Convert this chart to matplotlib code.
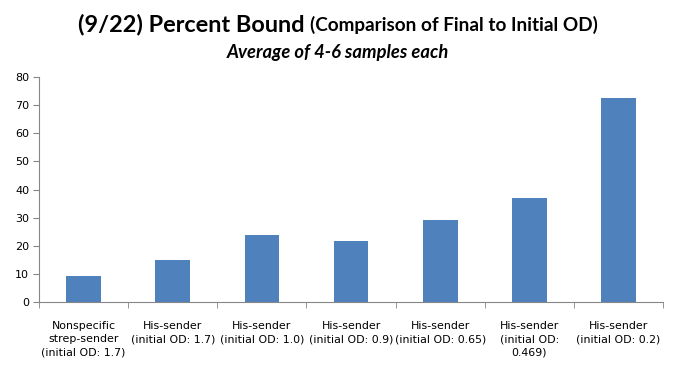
import numpy as np
import matplotlib
matplotlib.use("Agg")
import matplotlib.pyplot as plt

CATEGORIES = [
    "Nonspecific\nstrep-sender\n(initial OD: 1.7)",
    "His-sender\n(initial OD: 1.7)",
    "His-sender\n(initial OD: 1.0)",
    "His-sender\n(initial OD: 0.9)",
    "His-sender\n(initial OD: 0.65)",
    "His-sender\n(initial OD:\n0.469)",
    "His-sender\n(initial OD: 0.2)",
]
VALUES = [9.2, 15.0, 23.8, 21.7, 29.2, 37.0, 72.5]
YTICKS = [0, 10, 20, 30, 40, 50, 60, 70, 80]

BAR = "#4f81bd"
AXIS = "#868686"
TFONT = ["Lato", "DejaVu Sans"]


def main():
    fig = plt.figure(figsize=(6.76, 3.78), dpi=100)
    ax = fig.add_axes([0.0577, 0.201, 0.9233, 0.595])
    x = np.arange(len(VALUES))
    ax.bar(x, VALUES, width=0.39, color=BAR, zorder=2)
    ax.set_xlim(-0.5, len(VALUES) - 0.5)
    ax.set_ylim(0, 80)
    ax.set_yticks(YTICKS)
    ax.tick_params(axis="y", labelsize=8, direction="out", length=4, color=AXIS, pad=3)
    ax.set_xticks(x)
    ax.set_xticklabels(CATEGORIES, fontsize=7.9, linespacing=1.35)
    ax.tick_params(axis="x", length=0, pad=14)
    ax.set_xticks(np.arange(len(VALUES) + 1) - 0.5, minor=True)
    ax.tick_params(axis="x", which="minor", direction="out", length=4, color=AXIS)
    for s in ("top", "right"):
        ax.spines[s].set_visible(False)
    for s in ("left", "bottom"):
        ax.spines[s].set_color(AXIS)

    # two-size title line, centered as one piece
    r = fig.canvas.get_renderer()
    t1 = fig.text(0, 0.918, "(9/22) Percent Bound ", fontsize=16.9, fontweight="bold",
                  family=TFONT, va="baseline")
    t2 = fig.text(0, 0.918, "(Comparison of Final to Initial OD)", fontsize=13.6,
                  fontweight="bold", family=TFONT, va="baseline")
    w1 = t1.get_window_extent(r).width / fig.bbox.width
    w2 = t2.get_window_extent(r).width / fig.bbox.width
    x0 = 0.5 - (w1 + w2) / 2
    t1.set_x(x0)
    t2.set_x(x0 + w1)
    fig.text(0.5, 0.847, "Average of 4-6 samples each", fontsize=13.2, fontweight="bold",
             style="italic", family=TFONT, ha="center", va="baseline")

    fig.savefig("out.png", dpi=100)
    plt.close(fig)


if __name__ == "__main__":
    main()
